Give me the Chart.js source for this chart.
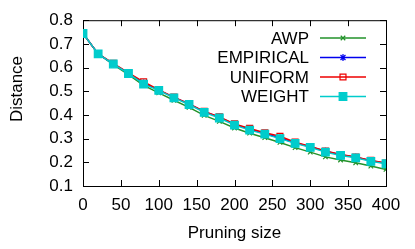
<!DOCTYPE html>
<html>
<head>
<meta charset="utf-8">
<script src="https://cdn.jsdelivr.net/npm/chart.js@4/dist/chart.umd.min.js"></script>
<style>
  html, body { margin: 0; padding: 0; background: #fff; }
</style>
</head>
<body>
<canvas id="distChart" width="415" height="249"></canvas>
<script>
// data
const pruningSizes = [0, 20, 40, 60, 80, 100, 120, 140, 160, 180, 200, 220, 240, 260, 280, 300, 320, 340, 360, 380, 400];
const awp       = [0.744, 0.658, 0.612, 0.570, 0.525, 0.493, 0.462, 0.432, 0.398, 0.373, 0.345, 0.323, 0.304, 0.284, 0.262, 0.243, 0.223, 0.210, 0.198, 0.184, 0.170];
const empirical = [0.744, 0.658, 0.616, 0.577, 0.535, 0.505, 0.474, 0.446, 0.414, 0.390, 0.360, 0.340, 0.322, 0.303, 0.283, 0.266, 0.247, 0.232, 0.221, 0.207, 0.196];
const uniform   = [0.744, 0.658, 0.618, 0.578, 0.540, 0.506, 0.475, 0.447, 0.415, 0.392, 0.362, 0.343, 0.325, 0.310, 0.285, 0.267, 0.248, 0.233, 0.222, 0.208, 0.197];
const weight    = [0.744, 0.658, 0.615, 0.575, 0.530, 0.504, 0.472, 0.444, 0.411, 0.387, 0.357, 0.336, 0.319, 0.300, 0.280, 0.263, 0.243, 0.229, 0.219, 0.204, 0.194];

const xTickStep = 50;
const yTickStep = 0.1;

const FONT = '"Liberation Sans", Arial, sans-serif';
const FONT_SIZE = 17;

function toPoints(values) {
  return pruningSizes.map((x, i) => ({ x: x, y: values[i] }));
}

const seriesDefs = [
  { label: 'AWP',       values: awp,       color: '#22922a', style: 'crossRot', radius: 3.2, fill: '#22922a', order: 3 },
  { label: 'EMPIRICAL', values: empirical, color: '#0000ee', style: 'star',     radius: 3.5, fill: '#0000ee', order: 2 },
  { label: 'UNIFORM',   values: uniform,   color: '#ee0000', style: 'rect',     radius: 4.2, fill: 'rgba(0,0,0,0)', order: 1 },
  { label: 'WEIGHT',    values: weight,    color: '#00cccc', style: 'rect',     radius: 5.4, fill: '#00cccc', order: 0 }
];

// box + inward ticks on all four sides (gnuplot look), plus the y title
const frameAndTicks = {
  id: 'frameAndTicks',
  beforeDatasetsDraw(chart) {
    const { ctx, chartArea: a, scales } = chart;
    ctx.save();
    ctx.strokeStyle = '#000';
    ctx.lineWidth = 1;
    ctx.strokeRect(a.left + 0.5, a.top + 0.5, a.right - a.left, a.bottom - a.top);
    const len = 6;
    ctx.beginPath();
    scales.x.ticks.forEach(t => {
      const px = Math.round(scales.x.getPixelForValue(t.value)) + 0.5;
      ctx.moveTo(px, a.bottom); ctx.lineTo(px, a.bottom - len);
      ctx.moveTo(px, a.top); ctx.lineTo(px, a.top + len);
    });
    scales.y.ticks.forEach(t => {
      const py = Math.round(scales.y.getPixelForValue(t.value)) + 0.5;
      ctx.moveTo(a.left, py); ctx.lineTo(a.left + len, py);
      ctx.moveTo(a.right, py); ctx.lineTo(a.right - len, py);
    });
    ctx.stroke();

    // y axis title, sits a bit above the middle like in the original
    ctx.translate(17, 89);
    ctx.rotate(-Math.PI / 2);
    ctx.font = FONT_SIZE + 'px ' + FONT;
    ctx.fillStyle = '#000';
    ctx.textAlign = 'center';
    ctx.textBaseline = 'middle';
    ctx.fillText('Distance', 0, 0);
    ctx.restore();
  }
};

// legend: label on the left, line sample with marker on the right
const keyBox = {
  id: 'keyBox',
  afterDraw(chart) {
    const ctx = chart.ctx;
    const textRight = 309, lineL = 320, lineR = 366, firstY = 38, rowH = 19.5;
    ctx.save();
    ctx.font = FONT_SIZE + 'px ' + FONT;
    ctx.textAlign = 'right';
    ctx.textBaseline = 'middle';
    chart.data.datasets.forEach((ds, i) => {
      const y = firstY + i * rowH;
      ctx.fillStyle = '#000';
      ctx.fillText(ds.label, textRight, y + 1);
      ctx.strokeStyle = ds.borderColor;
      ctx.lineWidth = 1.5;
      ctx.beginPath();
      ctx.moveTo(lineL, y); ctx.lineTo(lineR, y);
      ctx.stroke();
      // drawPoint uses whatever fill/stroke is set
      ctx.fillStyle = ds.pointBackgroundColor;
      ctx.strokeStyle = ds.pointBorderColor;
      ctx.lineWidth = ds.pointBorderWidth;
      Chart.helpers.drawPoint(ctx, {
        pointStyle: ds.pointStyle,
        radius: ds.pointRadius,
        borderWidth: ds.pointBorderWidth,
        rotation: 0
      }, (lineL + lineR) / 2, y);
    });
    ctx.restore();
  }
};

const ctx = document.getElementById('distChart').getContext('2d');

const distChart = new Chart(ctx, {
  type: 'line',
  data: {
    datasets: seriesDefs.map(s => ({
      label: s.label,
      data: toPoints(s.values),
      borderColor: s.color,
      borderWidth: 1.5,
      pointStyle: s.style,
      pointRadius: s.radius,
      pointBorderWidth: 1.2,
      pointBorderColor: s.color,
      pointBackgroundColor: s.fill,
      tension: 0,
      order: s.order
    }))
  },
  options: {
    responsive: false,
    animation: false,
    layout: { padding: { top: 20, right: 29, left: 0, bottom: 0 } },
    plugins: {
      legend: { display: false },
      tooltip: { enabled: false }
    },
    scales: {
      x: {
        type: 'linear',
        min: 0,
        max: 400,
        ticks: {
          stepSize: xTickStep,
          padding: 9,
          color: '#000',
          font: { family: FONT, size: FONT_SIZE }
        },
        grid: { display: false, drawTicks: false },
        border: { display: false },
        title: {
          display: true,
          text: 'Pruning size',
          color: '#000',
          font: { family: FONT, size: FONT_SIZE },
          padding: { top: 0, bottom: 5 }
        },
        afterFit(scale) { scale.height = 63; }
      },
      y: {
        type: 'linear',
        min: 0.1,
        max: 0.8,
        ticks: {
          stepSize: yTickStep,
          padding: 10,
          color: '#000',
          font: { family: FONT, size: FONT_SIZE },
          callback: v => v.toFixed(1)
        },
        grid: { display: false, drawTicks: false },
        border: { display: false },
        afterFit(scale) { scale.width = 83; }
      }
    }
  },
  plugins: [frameAndTicks, keyBox]
});
</script>
</body>
</html>
